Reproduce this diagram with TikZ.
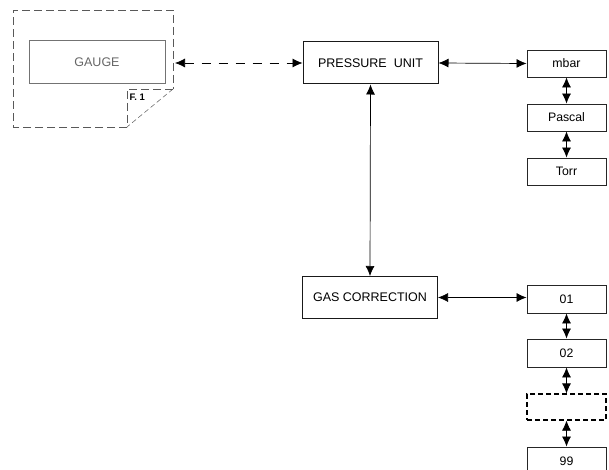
\documentclass[tikz,border=0pt]{standalone}
\usepackage{fontspec}
\setmainfont{Liberation Sans}
\usetikzlibrary{arrows.meta}
\begin{document}
\begin{tikzpicture}[x=1pt,y=-1pt,
  lbl/.style={font=\fontsize{12.5}{14}\selectfont},
  bigbox/.style={draw=black!90,line width=1pt,minimum width=135pt,minimum height=42pt,inner sep=0pt,lbl},
  smallbox/.style={draw=black!85,line width=0.9pt,minimum width=79pt,minimum height=27pt,inner sep=0pt,font=\fontsize{12.3}{14}\selectfont},
  gaugebox/.style={draw=black!55,line width=1pt,minimum width=136pt,minimum height=43pt,inner sep=0pt,text=black!60,lbl},
  outline/.style={draw=black!65,line width=0.9pt,dash pattern=on 8pt off 4pt},
  biarrow/.style={line width=0.7pt,{Latex[length=10pt,width=9pt]}-{Latex[length=10pt,width=9pt]}},
  dasharrow/.style={biarrow,dash pattern=on 9pt off 8pt}
]
\useasboundingbox (0,0) rectangle (609,470);
% gauge sheet with folded corner
\draw[outline] (127,127) -- (13,127) -- (13,10) -- (173,10) -- (173,89);
\draw[outline] (173,89) -- (127,89) -- (127,127);
\draw[draw=black!65,line width=0.5pt,dash pattern=on 5pt off 3pt] (173,89) -- (127,127);
\node[anchor=west,font=\bfseries\fontsize{9.5}{11}\selectfont,inner sep=0pt] (f1) at (129.5,97.5) {F. 1};
\node[gaugebox] (gauge) at (97,62.5) {GAUGE};
\coordinate (gout) at (175,63);
% main boxes
\node[bigbox] (pu) at (370.5,63) {PRESSURE~~UNIT};
\node[bigbox] (gc) at (370,297.5) {GAS CORRECTION};
% unit list
\node[smallbox] (mbar) at (566.5,63.5) {mbar};
\node[smallbox] (pascal) at (566.5,117.5) {Pascal};
\node[smallbox] (torr) at (566.5,171.5) {Torr};
% gas list
\node[smallbox,minimum height=28pt] (g01) at (566.5,299) {01};
\node[smallbox,minimum height=28pt] (g02) at (566.5,353) {02};
\node[smallbox,draw=black,line width=1.2pt,dash pattern=on 5pt off 3pt,minimum height=26pt] (gdots) at (566.5,407) {};
\node[smallbox,minimum height=28pt] (g99) at (566.5,461) {99};
% connectors
\draw[dasharrow] (gout) -- (pu.west);
\draw[biarrow] (pu.east) -- (mbar.west);
\draw[biarrow] (pu.south) -- (gc.north);
\draw[biarrow] (gc.east) -- (g01.west |- gc.east);
\draw[biarrow] (mbar) -- (pascal);
\draw[biarrow] (pascal) -- (torr);
\draw[biarrow] (g01) -- (g02);
\draw[biarrow] (g02) -- (gdots);
\draw[biarrow] (gdots) -- (g99);
\end{tikzpicture}
\end{document}
